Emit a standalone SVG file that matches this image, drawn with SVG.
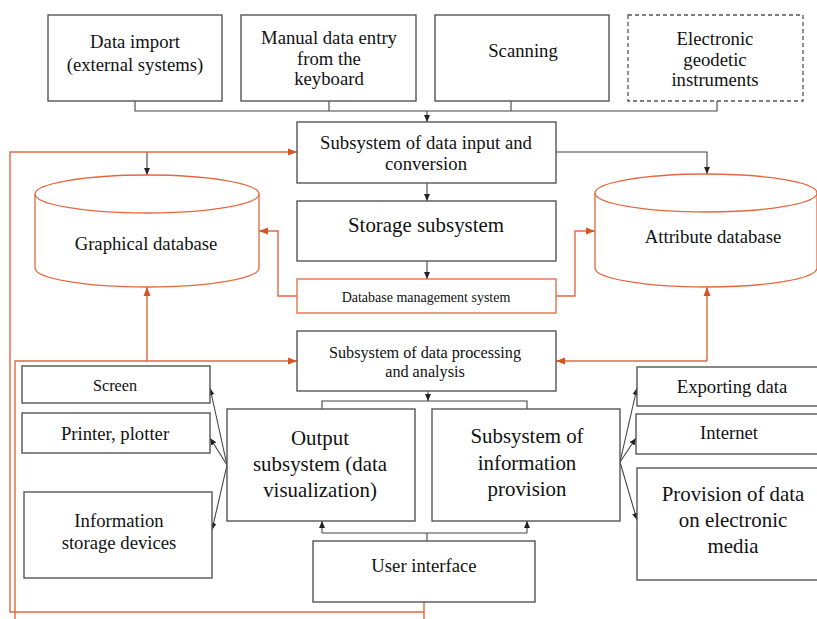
<svg xmlns="http://www.w3.org/2000/svg" width="817" height="619" viewBox="0 0 817 619">
<style>
.box{fill:#fff;stroke:#555;stroke-width:1.4}
.dash{fill:#fff;stroke:#555;stroke-width:1.3;stroke-dasharray:4 3}
.obox{fill:#fff;stroke:#E4683F;stroke-width:1.3}
.cyl{fill:#fff;stroke:#E4683F;stroke-width:1.3}
.k{fill:none;stroke:#444;stroke-width:1.1}
.o{fill:none;stroke:#E4683F;stroke-width:1.4}
text{font-family:"Liberation Serif","Times New Roman","DejaVu Serif",serif;fill:#111;text-anchor:middle}
.f18{font-size:18.7px}.f21{font-size:20.9px}.f16{font-size:16.2px}.f14{font-size:14px}
</style>
<defs>
<marker id="ak" markerWidth="8" markerHeight="8" refX="7" refY="4" orient="auto" markerUnits="userSpaceOnUse"><path d="M0,1 L7,4 L0,7 Z" fill="#222"/></marker>
<marker id="ao" markerWidth="10" markerHeight="8" refX="9" refY="4" orient="auto" markerUnits="userSpaceOnUse"><path d="M0,0.5 L9,4 L0,7.5 Z" fill="#D9541E"/></marker>
</defs>

<g id="connectors">
<path class="k" d="M135,101 V111 H717 V101 M329,101 V111 M511,101 V111"/>
<path class="k" d="M427,111 V122" marker-end="url(#ak)"/>
<path class="k" d="M147,152 V175" marker-end="url(#ak)"/>
<path class="k" d="M556,152 H707 V174" marker-end="url(#ak)"/>
<path class="k" d="M427,183 V201" marker-end="url(#ak)"/>
<path class="k" d="M427,261 V279" marker-end="url(#ak)"/>
<path class="o" d="M297,296 H278 V231 H259" marker-end="url(#ao)"/>
<path class="o" d="M556,296 H575 V231 H595" marker-end="url(#ao)"/>
<path class="o" d="M15,619 V361 H297" marker-end="url(#ao)"/>
<path class="o" d="M147,361 V287" marker-end="url(#ao)"/>
<path class="o" d="M707,361 H556" marker-end="url(#ao)"/>
<path class="o" d="M707,361 V287" marker-end="url(#ao)"/>
<path class="o" d="M424,602 V619 M424,612 H10 V152 H297" marker-end="url(#ao)"/>
<path class="k" d="M428,391 V401" marker-end="url(#ak)"/>
<path class="k" d="M322,409 V401 H527 V409"/>
<path class="k" d="M427,541 V533 M322,533 H527"/>
<path class="k" d="M322,533 V521" marker-end="url(#ak)"/>
<path class="k" d="M527,533 V521" marker-end="url(#ak)"/>
<path class="k" d="M227,465 L210,388" marker-end="url(#ak)"/>
<path class="k" d="M227,465 L210,438" marker-end="url(#ak)"/>
<path class="k" d="M227,465 L212,530" marker-end="url(#ak)"/>
<path class="k" d="M620,462 L637,388" marker-end="url(#ak)"/>
<path class="k" d="M620,462 L636,438" marker-end="url(#ak)"/>
<path class="k" d="M620,462 L637,520" marker-end="url(#ak)"/>
</g>

<g id="data-import"><rect class="box" x="48" y="15" width="174" height="86"/><text class="f18" x="135" y="48">Data import</text><text class="f18" x="135" y="71">(external systems)</text></g>
<g id="manual-entry"><rect class="box" x="241" y="15" width="175" height="86"/><text class="f18" x="329" y="44">Manual data entry</text><text class="f18" x="329" y="65">from the</text><text class="f18" x="329" y="85">keyboard</text></g>
<g id="scanning"><rect class="box" x="435" y="15" width="174" height="86"/><text class="f18" x="523" y="57">Scanning</text></g>
<g id="geodetic"><rect class="dash" x="628" y="15" width="175" height="86"/><text class="f18" x="715" y="45">Electronic</text><text class="f18" x="715" y="66">geodetic</text><text class="f18" x="715" y="86">instruments</text></g>

<g id="input-subsystem"><rect class="box" x="297" y="122" width="259" height="61"/><text class="f18" x="426" y="149">Subsystem of data input and</text><text class="f18" x="426" y="170">conversion</text></g>
<g id="storage-subsystem"><rect class="box" x="297" y="201" width="259" height="60"/><text class="f21" x="426" y="232">Storage subsystem</text></g>
<g id="dbms"><rect class="obox" x="297" y="279" width="259" height="34"/><text class="f14" x="426" y="302">Database management system</text></g>
<g id="processing"><rect class="box" x="297" y="331" width="259" height="60"/><text class="f16" x="425" y="358">Subsystem of data processing</text><text class="f16" x="425" y="377">and analysis</text></g>

<g id="graphical-db"><path class="cyl" d="M35,194 V268 A112,19 0 0 0 259,268 V194"/><ellipse class="cyl" cx="147" cy="194" rx="112" ry="19"/><text class="f18" x="146" y="250">Graphical database</text></g>
<g id="attribute-db"><path class="cyl" d="M595,193 V268 A111,19 0 0 0 817,268 V193"/><ellipse class="cyl" cx="706" cy="193" rx="111" ry="19"/><text class="f18" x="713" y="243">Attribute database</text></g>

<g id="screen"><rect class="box" x="22" y="366" width="188" height="37"/><text class="f16" x="115" y="391">Screen</text></g>
<g id="printer"><rect class="box" x="22" y="413" width="188" height="40"/><text class="f18" x="115" y="440">Printer, plotter</text></g>
<g id="storage-devices"><rect class="box" x="24" y="492" width="188" height="86"/><text class="f18" x="119" y="527">Information</text><text class="f18" x="119" y="549">storage devices</text></g>

<g id="output-subsystem"><rect class="box" x="227" y="409" width="188" height="112"/><text class="f21" x="320" y="445">Output</text><text class="f21" x="320" y="471">subsystem (data</text><text class="f21" x="320" y="497">visualization)</text></g>
<g id="provision-subsystem"><rect class="box" x="432" y="409" width="188" height="112"/><text class="f21" x="527" y="443">Subsystem of</text><text class="f21" x="527" y="470">information</text><text class="f21" x="527" y="496">provision</text></g>

<g id="user-interface"><rect class="box" x="313" y="541" width="222" height="61"/><text class="f18" x="424" y="572">User interface</text></g>

<g id="exporting"><rect class="box" x="637" y="367" width="182" height="39"/><text class="f18" x="732" y="393">Exporting data</text></g>
<g id="internet"><rect class="box" x="636" y="414" width="183" height="40"/><text class="f18" x="729" y="439">Internet</text></g>
<g id="electronic-media"><rect class="box" x="637" y="468" width="182" height="112"/><text class="f21" x="733" y="501">Provision of data</text><text class="f21" x="733" y="527">on electronic</text><text class="f21" x="733" y="553">media</text></g>
</svg>
